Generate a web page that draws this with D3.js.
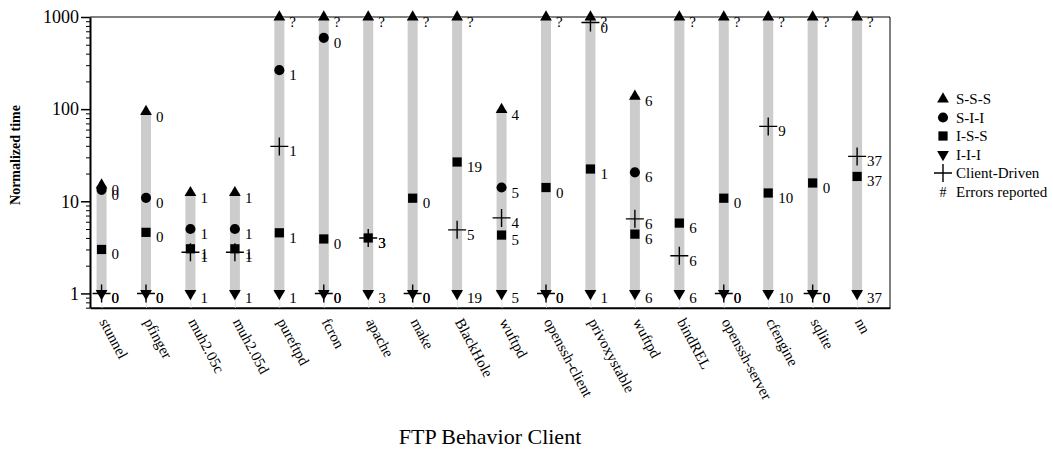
<!DOCTYPE html>
<html>
<head>
<meta charset="utf-8">
<script src="https://cdn.jsdelivr.net/npm/d3@7"></script>
<style>
  body { margin: 0; background: #fff; }
  svg text { font-family: "Liberation Serif", "Times New Roman", serif !important; fill: #000; }
</style>
</head>
<body>
<script>
const categories = ["stunnel", "pfinger", "muh2.05c", "muh2.05d", "pureftpd", "fcron", "apache", "make", "BlackHole",
  "wuftpd", "openssh-client", "privoxystable", "wuftpd", "bindREL", "openssh-server", "cfengine", "sqlite", "nn"];

// normalized times per strategy (null = not drawn)
const sss = [15, 94, 12.4, 12.4, 1000, 1000, 1000, 1000, 1000, 99, 1000, 1000, 138, 1000, 1000, 1000, 1000, 1000];
const sii = [13.3, 10.9, 5.0, 5.0, 265, 594, null, null, null, 14.1, null, null, 20.6, null, null, null, null, null];
const iss = [3.0, 4.6, 3.05, 3.05, 4.55, 3.9, 4.0, 10.8, 26.7, 4.3, 14.1, 22.4, 4.4, 5.8, 10.8, 12.3, 15.8, 18.6];
const iii = [1, 1, 1, 1, 1, 1, 1, 1, 1, 1, 1, 1, 1, 1, 1, 1, 1, 1];
const client = [1, 1, 2.8, 2.8, 39.4, 1, 4.0, 1, 4.9, 6.6, 1, 870, 6.45, 2.56, 1, 65, 1, 30.7];

// number of errors reported
const sssErr = ["0", "0", "1", "1", "?", "?", "?", "?", "?", "4", "?", "?", "6", "?", "?", "?", "?", "?"];
const siiErr = ["0", "0", "1", "1", "1", "0", null, null, null, "5", null, null, "6", null, null, null, null, null];
const issErr = ["0", "0", "1", "1", "1", "0", "3", "0", "19", "5", "0", "1", "6", "6", "0", "10", "0", "37"];
const iiiErr = ["0", "0", "1", "1", "1", "0", "3", "0", "19", "5", "0", "1", "6", "6", "0", "10", "0", "37"];
const clientErr = ["0", "0", "1", "1", "1", "0", "3", "0", "5", "4", "0", "0", "6", "6", "0", "9", "0", "37"];

const yTicks = [1, 10, 100, 1000];
const legendLabels = ["S-S-S", "S-I-I", "I-S-S", "I-I-I", "Client-Driven", "Errors reported"];

const w = 1053;
const h = 453;
const plotLeft = 90, plotRight = 890, plotTop = 17;

const svg = d3.select("body").append("svg").attr("width", w).attr("height", h);

const x = d3.scaleLinear().domain([0.74, 18.74]).range([plotLeft, plotRight]);
const y = d3.scaleLog().domain([0.7, 1000]).range([307.7, plotTop]);
const idx = d3.range(1, categories.length + 1);

// frame top/right
svg.append("line").attr("x1", plotLeft).attr("x2", plotRight).attr("y1", plotTop).attr("y2", plotTop).attr("stroke", "#000");
svg.append("line").attr("x1", plotRight).attr("x2", plotRight).attr("y1", plotTop).attr("y2", y(0.7)).attr("stroke", "#000");

// grey range bars
svg.selectAll("rect.range")
  .data(idx)
  .enter()
  .append("rect")
  .attr("class", "range")
  .attr("x", (i) => x(i) - 5)
  .attr("width", 10)
  .attr("y", (i) => y(sss[i - 1]))
  .attr("height", (i) => y(iii[i - 1]) - y(sss[i - 1]))
  .attr("fill", "#cccccc");

// x axis
const xAxis = svg.append("g")
  .attr("transform", "translate(0," + y(0.7) + ")")
  .call(d3.axisBottom(x).tickValues(idx).tickFormat((i) => categories[i - 1]).tickSize(-14).tickSizeOuter(0));
xAxis.select(".domain").attr("stroke-width", 2);
xAxis.selectAll(".tick line").attr("stroke", "#e4e4e4");
xAxis.selectAll(".tick text")
  .attr("x", 0).attr("y", 0).attr("dy", 0)
  .attr("text-anchor", "start")
  .attr("transform", "translate(-3,14) rotate(62)")
  .style("font-size", "15px");

// y axis
const minor = y.ticks().filter((v) => !yTicks.includes(v));
const yMinor = svg.append("g")
  .attr("transform", "translate(" + plotLeft + ",0)")
  .call(d3.axisLeft(y).tickValues(minor).tickFormat("").tickSize(4).tickSizeOuter(0));
yMinor.select(".domain").remove();
const yAxis = svg.append("g")
  .attr("transform", "translate(" + plotLeft + ",0)")
  .call(d3.axisLeft(y).tickValues(yTicks).tickFormat(d3.format("d")).tickSize(9).tickSizeOuter(0).tickPadding(2));
yAxis.select(".domain").attr("stroke-width", 2);
yAxis.selectAll(".tick line").attr("stroke-width", 1.5);
yAxis.selectAll(".tick text").style("font-size", "18px");

svg.append("text")
  .attr("transform", "translate(20,155) rotate(-90)")
  .attr("text-anchor", "middle")
  .style("font-size", "14px")
  .style("font-weight", "bold")
  .text("Normalized time");

svg.append("text")
  .attr("x", 490).attr("y", 444)
  .attr("text-anchor", "middle")
  .style("font-size", "22px")
  .text("FTP Behavior Client");

// markers
const plusPath = "M-9,0H9M0,-9V9";
const series = [
  { vals: sss, errs: sssErr, sym: d3.symbol(d3.symbolTriangle, 60)() },
  { vals: sii, errs: siiErr, sym: d3.symbol(d3.symbolCircle, 80)() },
  { vals: iss, errs: issErr, sym: d3.symbol(d3.symbolSquare, 85)() },
  { vals: iii, errs: iiiErr, sym: d3.symbol(d3.symbolTriangle, 60)(), flip: true },
  { vals: client, errs: clientErr, sym: plusPath, stroke: true }
];

series.forEach((s) => {
  const pts = idx.filter((i) => s.vals[i - 1] != null);
  svg.selectAll(null)
    .data(pts)
    .enter()
    .append("path")
    .attr("d", s.sym)
    .attr("transform", (i) => "translate(" + x(i) + "," + y(s.vals[i - 1]) + ")" + (s.flip ? " rotate(180)" : ""))
    .attr("fill", s.stroke ? "none" : "#000")
    .attr("stroke", s.stroke ? "#000" : "none")
    .attr("stroke-width", 1.4);
  svg.selectAll(null)
    .data(pts)
    .enter()
    .append("text")
    .attr("x", (i) => x(i) + 10)
    .attr("y", (i) => y(s.vals[i - 1]) + 10)
    .style("font-size", "15px")
    .text((i) => s.errs[i - 1]);
});

// legend
const legendSyms = [series[0].sym, series[1].sym, series[2].sym, series[3].sym, plusPath, null];
const lg = svg.append("g").attr("transform", "translate(943,99)");
legendLabels.forEach((lab, k) => {
  const row = lg.append("g").attr("transform", "translate(0," + k * 18.5 + ")");
  if (legendSyms[k]) {
    row.append("path")
      .attr("d", legendSyms[k])
      .attr("transform", k === 3 ? "rotate(180)" : null)
      .attr("fill", k === 4 ? "none" : "#000")
      .attr("stroke", k === 4 ? "#000" : "none")
      .attr("stroke-width", 1.4);
  } else {
    row.append("text").attr("text-anchor", "middle").attr("y", 5).style("font-size", "14px").text("#");
  }
  row.append("text").attr("x", 13).attr("y", 5).style("font-size", "15px").text(lab);
});
</script>
</body>
</html>
